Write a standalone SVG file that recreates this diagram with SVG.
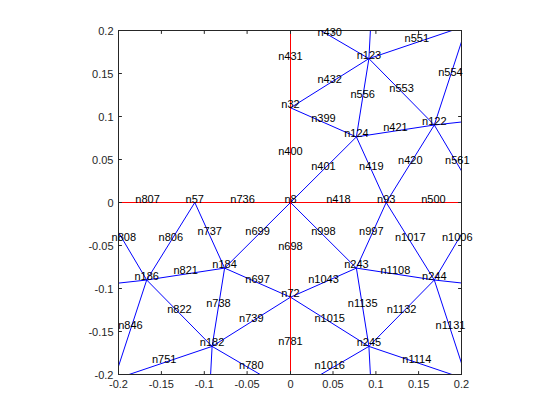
<svg xmlns="http://www.w3.org/2000/svg" width="560" height="420" viewBox="0 0 560 420">
<style>
.e{stroke:#0000ff;stroke-width:1;fill:none}
.r{stroke:#ff0000;stroke-width:1;fill:none}
.ax{stroke:#262626;stroke-width:1;fill:none}
.lb{font-family:"Liberation Sans",Arial,sans-serif;font-size:11px;fill:#000;text-anchor:middle}
.tk{font-family:"Liberation Sans",Arial,sans-serif;font-size:11px;fill:#262626}
.tx{text-anchor:middle}
.ty{text-anchor:end}
</style>
<defs>
<clipPath id="box"><rect x="118.5" y="30.5" width="343" height="344"/></clipPath>
</defs>
<rect width="560" height="420" fill="#fff"/>
<g id="connectors" clip-path="url(#box)">
<g class="e">
<!-- upper right -->
<line x1="290.5" y1="202.5" x2="356.4" y2="136.9"/>
<line x1="386.2" y1="202.5" x2="356.4" y2="136.9"/>
<line x1="386.2" y1="202.5" x2="434.3" y2="125.0"/>
<line x1="356.4" y1="136.9" x2="434.3" y2="125.0"/>
<line x1="290.5" y1="107.8" x2="356.4" y2="136.9"/>
<line x1="356.4" y1="136.9" x2="368.9" y2="58.6"/>
<line x1="434.3" y1="125.0" x2="368.9" y2="58.6"/>
<line x1="290.5" y1="107.8" x2="368.9" y2="58.6"/>
<line x1="434.3" y1="125.0" x2="480.2" y2="202.5"/>
<line x1="434.3" y1="125.0" x2="490.5" y2="118.8"/>
<line x1="434.3" y1="125.0" x2="466.6" y2="26.2"/>
<line x1="368.9" y1="58.6" x2="464.7" y2="26.2"/>
<line x1="368.9" y1="58.6" x2="371.9" y2="2.5"/>
<line x1="368.9" y1="58.6" x2="290.5" y2="12.8"/>
<!-- lower right -->
<line x1="290.5" y1="202.5" x2="356.4" y2="268.1"/>
<line x1="386.2" y1="202.5" x2="356.4" y2="268.1"/>
<line x1="386.2" y1="202.5" x2="434.3" y2="280.0"/>
<line x1="356.4" y1="268.1" x2="434.3" y2="280.0"/>
<line x1="290.5" y1="297.2" x2="356.4" y2="268.1"/>
<line x1="356.4" y1="268.1" x2="368.9" y2="346.4"/>
<line x1="434.3" y1="280.0" x2="368.9" y2="346.4"/>
<line x1="290.5" y1="297.2" x2="368.9" y2="346.4"/>
<line x1="434.3" y1="280.0" x2="480.2" y2="202.5"/>
<line x1="434.3" y1="280.0" x2="490.5" y2="286.2"/>
<line x1="434.3" y1="280.0" x2="466.6" y2="378.8"/>
<line x1="368.9" y1="346.4" x2="464.7" y2="378.8"/>
<line x1="368.9" y1="346.4" x2="371.9" y2="402.5"/>
<line x1="368.9" y1="346.4" x2="290.5" y2="392.2"/>
<!-- lower left -->
<line x1="290.5" y1="202.5" x2="224.6" y2="268.1"/>
<line x1="194.8" y1="202.5" x2="224.6" y2="268.1"/>
<line x1="194.8" y1="202.5" x2="146.7" y2="280.0"/>
<line x1="224.6" y1="268.1" x2="146.7" y2="280.0"/>
<line x1="290.5" y1="297.2" x2="224.6" y2="268.1"/>
<line x1="224.6" y1="268.1" x2="212.1" y2="346.4"/>
<line x1="146.7" y1="280.0" x2="212.1" y2="346.4"/>
<line x1="290.5" y1="297.2" x2="212.1" y2="346.4"/>
<line x1="146.7" y1="280.0" x2="100.8" y2="202.5"/>
<line x1="146.7" y1="280.0" x2="90.5" y2="286.2"/>
<line x1="146.7" y1="280.0" x2="114.4" y2="378.8"/>
<line x1="212.1" y1="346.4" x2="116.3" y2="378.8"/>
<line x1="212.1" y1="346.4" x2="209.1" y2="402.5"/>
<line x1="212.1" y1="346.4" x2="290.5" y2="392.2"/>
</g>
<g class="r">
<line x1="100" y1="202.5" x2="480" y2="202.5"/>
<line x1="290.5" y1="12" x2="290.5" y2="393"/>
</g>
</g>
<g id="axes">
<rect class="ax" x="118.5" y="30.5" width="343" height="344"/>
<path class="ax" d="M118.5 374.5v-3.4M161.4 374.5v-3.4M204.3 374.5v-3.4M247.1 374.5v-3.4M290.5 374.5v-3.4M333 374.5v-3.4M375.9 374.5v-3.4M418.6 374.5v-3.4M461.5 374.5v-3.4M118.5 30.5v3.4M161.4 30.5v3.4M204.3 30.5v3.4M247.1 30.5v3.4M290.5 30.5v3.4M333 30.5v3.4M375.9 30.5v3.4M418.6 30.5v3.4M461.5 30.5v3.4M118.5 30.5h3.4M118.5 73.5h3.4M118.5 116.5h3.4M118.5 159.5h3.4M118.5 202.5h3.4M118.5 245.5h3.4M118.5 288.5h3.4M118.5 331.5h3.4M118.5 374.5h3.4M461.5 30.5h-3.4M461.5 73.5h-3.4M461.5 116.5h-3.4M461.5 159.5h-3.4M461.5 202.5h-3.4M461.5 245.5h-3.4M461.5 288.5h-3.4M461.5 331.5h-3.4M461.5 374.5h-3.4"/>
<g class="tk tx">
<text x="118.5" y="388">-0.2</text>
<text x="161.4" y="388">-0.15</text>
<text x="204.3" y="388">-0.1</text>
<text x="247.1" y="388">-0.05</text>
<text x="290.5" y="388">0</text>
<text x="333" y="388">0.05</text>
<text x="375.9" y="388">0.1</text>
<text x="418.6" y="388">0.15</text>
<text x="461.5" y="388">0.2</text>
</g>
<g class="tk ty">
<text x="113.5" y="34.5">0.2</text>
<text x="113.5" y="77.5">0.15</text>
<text x="113.5" y="120.5">0.1</text>
<text x="113.5" y="163.5">0.05</text>
<text x="113.5" y="206.5">0</text>
<text x="113.5" y="249.5">-0.05</text>
<text x="113.5" y="292.5">-0.1</text>
<text x="113.5" y="335.5">-0.15</text>
<text x="113.5" y="378.5">-0.2</text>
</g>
</g>
<g id="labels" class="lb">
<g id="n431"><text x="290.5" y="60.3">n431</text></g>
<g id="n400"><text x="290.5" y="155.2">n400</text></g>
<g id="n698"><text x="290.5" y="249.8">n698</text></g>
<g id="n781"><text x="290.5" y="344.7">n781</text></g>
<g id="n418"><text x="338.4" y="202.5">n418</text></g>
<g id="n500"><text x="433.4" y="202.5">n500</text></g>
<g id="n736"><text x="242.6" y="202.5">n736</text></g>
<g id="n807"><text x="147.6" y="202.5">n807</text></g>
<g id="n8"><text x="290.5" y="202.5">n8</text></g>
<g id="n57"><text x="194.8" y="202.5">n57</text></g>
<g id="n93"><text x="386.2" y="202.5">n93</text></g>
<g id="n32"><text x="290.5" y="107.8">n32</text></g>
<g id="n72"><text x="290.5" y="297.2">n72</text></g>
<g id="n430"><text x="329.7" y="35.7">n430</text></g>
<g id="n551"><text x="416.8" y="42.4">n551</text></g>
<g id="n554"><text x="450.5" y="75.6">n554</text></g>
<g id="n432"><text x="329.7" y="83.2">n432</text></g>
<g id="n556"><text x="362.7" y="97.8">n556</text></g>
<g id="n553"><text x="401.6" y="91.8">n553</text></g>
<g id="n399"><text x="323.5" y="122.4">n399</text></g>
<g id="n421"><text x="395.4" y="131">n421</text></g>
<g id="n401"><text x="323.5" y="169.7">n401</text></g>
<g id="n419"><text x="371.3" y="169.7">n419</text></g>
<g id="n420"><text x="410.3" y="163.8">n420</text></g>
<g id="n561"><text x="457.3" y="163.8">n561</text></g>
<g id="n123"><text x="368.9" y="58.6">n123</text></g>
<g id="n124"><text x="356.4" y="136.9">n124</text></g>
<g id="n122"><text x="434.3" y="125">n122</text></g>
<g id="n1016"><text x="329.7" y="369.3">n1016</text></g>
<g id="n1114"><text x="416.8" y="362.6">n1114</text></g>
<g id="n1131"><text x="450.5" y="329.4">n1131</text></g>
<g id="n1015"><text x="329.7" y="321.8">n1015</text></g>
<g id="n1135"><text x="362.7" y="307.3">n1135</text></g>
<g id="n1132"><text x="401.6" y="313.2">n1132</text></g>
<g id="n1043"><text x="323.5" y="282.7">n1043</text></g>
<g id="n1108"><text x="395.4" y="274.1">n1108</text></g>
<g id="n998"><text x="323.5" y="235.3">n998</text></g>
<g id="n997"><text x="371.3" y="235.3">n997</text></g>
<g id="n1017"><text x="410.3" y="241.3">n1017</text></g>
<g id="n1006"><text x="457.3" y="241.3">n1006</text></g>
<g id="n243"><text x="356.4" y="268.1">n243</text></g>
<g id="n244"><text x="434.3" y="280">n244</text></g>
<g id="n245"><text x="368.9" y="346.4">n245</text></g>
<g id="n780"><text x="251.3" y="369.3">n780</text></g>
<g id="n751"><text x="164.2" y="362.6">n751</text></g>
<g id="n846"><text x="130.5" y="329.4">n846</text></g>
<g id="n739"><text x="251.3" y="321.8">n739</text></g>
<g id="n738"><text x="218.4" y="307.3">n738</text></g>
<g id="n822"><text x="179.4" y="313.2">n822</text></g>
<g id="n697"><text x="257.6" y="282.7">n697</text></g>
<g id="n821"><text x="185.7" y="274.1">n821</text></g>
<g id="n699"><text x="257.6" y="235.3">n699</text></g>
<g id="n737"><text x="209.7" y="235.3">n737</text></g>
<g id="n806"><text x="170.8" y="241.3">n806</text></g>
<g id="n808"><text x="123.8" y="241.3">n808</text></g>
<g id="n184"><text x="224.6" y="268.1">n184</text></g>
<g id="n186"><text x="146.7" y="280">n186</text></g>
<g id="n182"><text x="212.1" y="346.4">n182</text></g>
</g>
</svg>
